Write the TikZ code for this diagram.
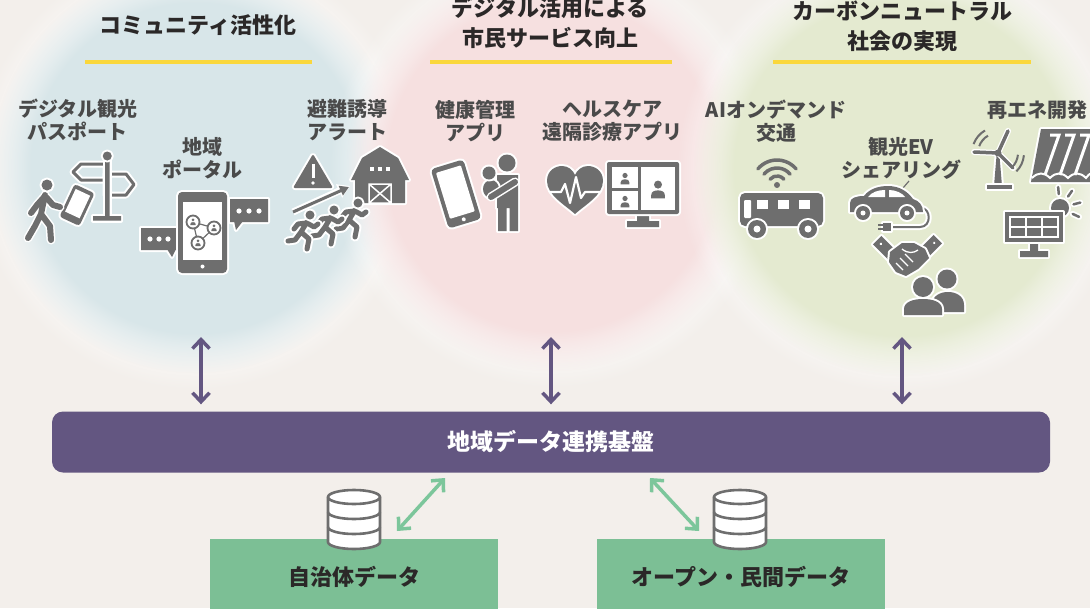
\documentclass[tikz,border=0pt]{standalone}
\usepackage{fontspec}
\setmainfont{Noto Sans CJK JP}
\usetikzlibrary{arrows.meta,positioning,calc,fadings}

\definecolor{paper}{HTML}{F3EFEB}
\definecolor{circblue}{HTML}{D8E6E9}
\definecolor{circpink}{HTML}{F6E0E0}
\definecolor{circgreen}{HTML}{E4EAD0}
\definecolor{bandyellow}{HTML}{FAD73C}
\definecolor{basepurple}{HTML}{635681}
\definecolor{datagreen}{HTML}{7CBF95}
\definecolor{linkgreen}{HTML}{7CC69B}
\definecolor{icongray}{HTML}{6E6E6E}
\definecolor{titleink}{HTML}{2B2828}
\definecolor{labelink}{HTML}{4A4A4A}

% soft edged disc for the three themes
\pgfdeclareradialshading{discmask}{\pgfpointorigin}{%
  color(0bp)=(white); color(20bp)=(white); color(25bp)=(black); color(50bp)=(black)}
\pgfdeclarefading{softdisc}{\pgfuseshading{discmask}}

\tikzset{
  ttl/.style={font=\fontsize{22}{30}\selectfont\bfseries,text=titleink,align=center},
  lbl/.style={font=\fontsize{20}{23}\selectfont\bfseries,text=labelink,align=center},
  rulebar/.style={draw=bandyellow,line width=4.5pt},
  ico/.style={fill=icongray,preaction={draw=white,line width=4pt,line join=round}},
  limb/.style={draw=icongray,line width=5pt,line cap=round,line join=round,
    preaction={draw=white,line width=9pt,line cap=round,line join=round}},
  thinlimb/.style={draw=icongray,line width=2.5pt,line cap=round,line join=round,
    preaction={draw=white,line width=6pt,line cap=round,line join=round}},
  outline/.style={draw=icongray,line width=3pt,line join=round,
    preaction={draw=white,line width=7pt,line join=round}},
  vlink/.style={draw=basepurple,line width=3.5pt,
    {Straight Barb[length=9pt,width=17pt]}-{Straight Barb[length=9pt,width=17pt]}},
  dlink/.style={draw=linkgreen,line width=3.5pt,
    {Straight Barb[length=9pt,width=17pt]}-{Straight Barb[length=9pt,width=17pt]}},
  basebar/.style={fill=basepurple,rounded corners=11pt,minimum width=998pt,minimum height=61pt,
    text=white,font=\fontsize{23}{26}\selectfont\bfseries},
  datbox/.style={fill=datagreen,minimum width=288pt,minimum height=76pt,
    text=titleink,font=\fontsize{22}{25}\selectfont\bfseries},
  bust/.pic={
    \fill[icongray] (0,-1.35) circle (1);
    \fill[icongray] (-1.7,2.1) -- (-1.7,1.3) .. controls (-1.7,0.4) and (-0.9,0.1) .. (0,0.1)
      .. controls (0.9,0.1) and (1.7,0.4) .. (1.7,1.3) -- (1.7,2.1) -- cycle;
  },
  runner/.pic={
    \draw[limb] (-3,7) -- (-9,17)
      (-3,8) -- (4,12) -- (8,9)
      (-4,8) -- (-12,9) -- (-16,14)
      (-9,17) -- (-1,24) -- (-3,34)
      (-9,17) -- (-15,25) -- (-22,26);
    \fill[ico] (0,0) circle (4.5);
  },
  dbstack/.pic={
    \filldraw[fill=white,draw=icongray,line width=2.6pt]
      (-26,7) -- (-26,52) arc[start angle=180,end angle=0,x radius=26,y radius=7]
      -- (26,7) arc[start angle=0,end angle=-180,x radius=26,y radius=7] -- cycle;
    \foreach \yy in {7,22,37}
      \draw[icongray,line width=2.6pt] (-26,\yy) arc[start angle=180,end angle=0,x radius=26,y radius=7];
  }
}

\begin{document}
\begin{tikzpicture}[x=1pt,y=-1pt]
\useasboundingbox (0,0) rectangle (1090,608);
\clip (0,0) rectangle (1090,608);
\fill[paper] (0,0) rectangle (1090,608);

% theme discs
\fill[white,opacity=0.7,path fading=softdisc] (196,168) circle (222pt);
\fill[circblue,path fading=softdisc] (196,168) circle (205pt);
\fill[white,opacity=0.7,path fading=softdisc] (552,166) circle (222pt);
\fill[circpink,path fading=softdisc] (552,166) circle (205pt);
\fill[white,opacity=0.7,path fading=softdisc] (902,168) circle (225pt);
\fill[circgreen,path fading=softdisc] (902,168) circle (208pt);

% headings
\node[ttl] (commTitle) at (198,25) {コミュニティ活性化};
\node[ttl] (civicTitle) at (550,23) {デジタル活用による\\市民サービス向上};
\node[ttl] (carbonTitle) at (902,26) {カーボンニュートラル\\社会の実現};
\draw[rulebar] (85,62) -- (312,62);
\draw[rulebar] (430,62) -- (672,62);
\draw[rulebar] (773,62) -- (1031,62);

% service labels
\node[lbl] (passLbl) at (78,120) {デジタル観光\\パスポート};
\node[lbl] (portalLbl) at (202,158) {地域\\ポータル};
\node[lbl] (alertLbl) at (347,120) {避難誘導\\アラート};
\node[lbl] (healthLbl) at (475,121) {健康管理\\アプリ};
\node[lbl] (teleLbl) at (612,121) {ヘルスケア\\遠隔診療アプリ};
\node[lbl] (busLbl) at (776,121) {AIオンデマンド\\交通};
\node[lbl] (evLbl) at (901,158) {観光EV\\シェアリング};
\node[lbl] (reLbl) at (1037,110) {再エネ開発};

% --- tourism passport: signpost, phone, walker
\draw[outline] (73,172) -- (81,164) -- (106,164) -- (106,180) -- (81,180) -- cycle;
\draw[outline] (106,174) -- (126,174) -- (134,184.5) -- (126,195) -- (106,195) -- cycle;
\fill[ico] (105,157) rectangle (109.5,218) (93,216) rectangle (121,220.5);
\fill[ico] (107.25,156) circle (4.5);
\begin{scope}[shift={(77,205)},rotate=-25]
  \fill[ico,rounded corners=3pt] (-11,-18) rectangle (11,18);
  \fill[white] (-8,-14) rectangle (8,11);
  \fill[icongray] (0,14.5) circle (1.5);
\end{scope}
\draw[limb,line width=6pt] (45,195) -- (41,214)
  (45,196) -- (37,205) -- (31,213)
  (46,197) -- (53,205) -- (60,207)
  (41,214) -- (35,226) -- (28,238)
  (41,214) -- (50,226) -- (51,240);
\fill[ico] (47,185) circle (5.5);

% --- local portal: bubbles and phone
\fill[ico] (141,228) rectangle (180,250) (167,249) -- (172,257) -- (176,249) -- cycle;
\foreach \xx in {150,159,168} \fill[white] (\xx,239) circle (2.6);
\fill[ico] (230,199) rectangle (268,222) (234,221) -- (236,230) -- (243,221) -- cycle;
\foreach \xx in {239,249,259} \fill[white] (\xx,211) circle (2.6);
\fill[ico,rounded corners=4pt] (178,192) rectangle (227,273);
\fill[white] (183,202) rectangle (222,260);
\fill[white] (202.5,266.5) circle (2);
\draw[icongray,line width=1.2pt] (193,222) -- (214,228) -- (198,243) -- cycle;
\foreach \p in {(193,222),(214,228),(198,243)} {
  \filldraw[fill=white,draw=icongray,line width=1.8pt] \p circle (6.5);
  \pic[scale=1.5] at \p {bust};
}

% --- evacuation alert: sign, shelter, arrow, runners
\fill[ico,rounded corners=2pt] (313,154) -- (333,188) -- (293,188) -- cycle;
\fill[white] (311.5,164) rectangle (314.5,178);
\fill[white] (313,183) circle (1.8);
\fill[ico] (355,203) -- (355,180) -- (351,180) -- (362,158) -- (380,147) -- (398,158)
  -- (409,180) -- (405,180) -- (405,203) -- cycle;
\foreach \xx in {372,380,388} \fill[white] (\xx-2,167) rectangle (\xx+2,171);
\draw[white,line width=1.5pt] (369,184) rectangle (391,203) (369,184) -- (391,203) (391,184) -- (369,203);
\draw[white,line width=7pt,-{Triangle[length=12pt,width=14pt]}] (293,212) -- (350,186);
\draw[icongray,line width=3pt,-{Triangle[length=9pt,width=10pt]}] (293,212) -- (349,187);
\pic at (358,203) {runner};
\pic at (334,210) {runner};
\pic at (310,215) {runner};

% --- health app: tablet, parent with child
\begin{scope}[shift={(456,194)},rotate=17]
  \fill[ico,rounded corners=4pt] (-17,-31) rectangle (17,31);
  \fill[white,rounded corners=1pt] (-13,-26) rectangle (13,22);
  \fill[white] (0,26.5) circle (2);
\end{scope}
\fill[ico] (497,175) rectangle (518,208) (498,205) rectangle (506.5,231) (509.5,205) rectangle (518,231);
\fill[ico] (507,163) circle (8.5);
\fill[ico] (491,189) ellipse [x radius=8,y radius=9];
\fill[ico] (489,173) circle (6.5);
\draw[icongray,line width=6pt,line cap=round,preaction={draw=white,line width=9pt,line cap=round}] (515,182) -- (491,197);

% --- telemedicine: heart and monitor
\fill[ico] (575,214) .. controls (565,205) and (547,195) .. (547,181)
  .. controls (547,170) and (556,166) .. (562,166) .. controls (568,166) and (573,170) .. (575,175)
  .. controls (577,170) and (582,166) .. (588,166) .. controls (594,166) and (603,170) .. (603,181)
  .. controls (603,195) and (585,205) .. (575,214) -- cycle;
\draw[white,line width=2.2pt,line join=round] (549,192) -- (561,192) -- (565,184) -- (570,203)
  -- (576,177) -- (581,198) -- (585,192) -- (601,192);
\fill[ico] (637,212) rectangle (649,222) (627,221) rectangle (659,227);
\fill[ico,rounded corners=2pt] (607,162) rectangle (679,214);
\fill[white] (612,167) rectangle (638,188);
\fill[white] (612,191) rectangle (638,210);
\fill[white] (641,167) rectangle (675,210);
\pic[scale=2.6] at (625,179) {bust};
\pic[scale=2.6] at (625,202) {bust};
\pic[scale=4] at (658,190) {bust};

% --- on-demand bus
\fill[icongray] (777,185) circle (3);
\foreach \r in {9,17,25}
  \draw[icongray,line width=3.5pt,line cap=round] (777,185) ++(-140:\r) arc[start angle=-140,end angle=-40,radius=\r];
\fill[ico,rounded corners=5pt] (740,193) rectangle (823,226);
\fill[white,rounded corners=1pt] (744,200) rectangle (751,218);
\foreach \xx in {757,778,799} \fill[white] (\xx,200) rectangle (\xx+11,209);
\foreach \xx in {757,808} {
  \fill[ico] (\xx,229) circle (9);
  \fill[white] (\xx,229) circle (3.5);
}

% --- EV sharing: car, cable, handshake, users
\draw[icongray,line width=1.2pt] (903,188) -- (909,181);
\draw[thinlimb,line width=2pt] (921,208) .. controls (931,208) and (932,227) .. (920,227) -- (890,227);
\fill[ico] (883,223) rectangle (891,231);
\draw[icongray,line width=1.5pt] (883,225) -- (878,225) (883,229) -- (878,229);
\fill[ico] (850,212) -- (850,203) .. controls (850,198) and (856,196) .. (864,196)
  .. controls (870,188) and (880,186) .. (888,186) .. controls (900,186) and (908,192) .. (913,199)
  .. controls (919,201) and (923,205) .. (923,212) -- cycle;
\fill[white] (868,197) .. controls (872,192) and (878,190) .. (885,190) -- (885,197) -- cycle;
\fill[white] (889,190) .. controls (896,190) and (902,193) .. (905,197) -- (889,197) -- cycle;
\foreach \xx in {863,907} {
  \fill[ico] (\xx,213) circle (7);
  \fill[white] (\xx,213) circle (2.5);
}
\begin{scope}[shift={(885,248)},rotate=45]
  \fill[ico] (-6,-11) rectangle (6,11);
  \fill[white] (0,-6) circle (1.4);
\end{scope}
\begin{scope}[shift={(930,247)},rotate=-45]
  \fill[ico] (-6,-11) rectangle (6,11);
  \fill[white] (0,-6) circle (1.4);
\end{scope}
\fill[ico] (890,252) -- (902,243) -- (914,243) -- (925,249) -- (929,258) -- (918,269)
  -- (906,276) -- (896,272) -- (889,262) -- cycle;
\draw[white,line width=1.3pt] (896,263) -- (903,270) (900,258) -- (908,266) (905,254) -- (913,262)
  (902,249) .. controls (908,254) and (914,253) .. (918,250);
\fill[ico] (932,312) -- (932,305) .. controls (932,296) and (940,292) .. (948,292)
  .. controls (956,292) and (964,296) .. (964,305) -- (964,312) -- cycle;
\fill[ico] (947,279) circle (9.5);
\fill[ico] (904,315) -- (904,309) .. controls (904,302) and (913,299) .. (923,299)
  .. controls (933,299) and (942,302) .. (942,309) -- (942,315) -- cycle;
\fill[ico] (923,287) circle (10);

% --- renewables: turbine, dam, solar
\fill[ico] (996.5,156) -- (999.5,156) -- (1002,186) -- (994,186) -- cycle;
\fill[ico] (987,185) rectangle (1012,189);
\draw[thinlimb,line width=3.5pt] (998,153) -- (1008,131) (998,153) -- (974,152) (998,153) -- (1013,168);
\fill[icongray] (998,153) circle (3.5);
\foreach \r in {20,26} {
  \draw[icongray,line width=2pt] (998,153) ++(-120:\r) arc[start angle=-120,end angle=-160,radius=\r];
  \draw[icongray,line width=2pt] (998,153) ++(5:\r) arc[start angle=5,end angle=45,radius=\r];
}
\fill[ico] (1041,129) -- (1094,129) -- (1094,182) -- (1031,182) -- cycle;
\foreach \xx in {1050,1065,1080}
  \draw[white,line width=3pt] (\xx,135) -- (\xx+9,135) -- (\xx-5,175);
\draw[white,line width=2pt] (1032,178) .. controls (1038,172) and (1044,172) .. (1050,178)
  .. controls (1056,172) and (1062,172) .. (1068,178) .. controls (1074,172) and (1080,172) .. (1086,178)
  .. controls (1090,173) .. (1094,175);
\fill[ico] (1060,208) circle (9);
\foreach \a in {-95,-55,-15,25} \draw[thinlimb] (1060,208) ++(\a:14) -- ++(\a:7);
\fill[ico] (1030,241) rectangle (1038,252) (1020,251) rectangle (1048,257);
\fill[ico] (1005,212) rectangle (1063,242);
\fill[white] (1009,216) rectangle (1059,238);
\foreach \cx in {1011,1027,1043} \foreach \cy in {218,228}
  \fill[icongray] (\cx,\cy) rectangle (\cx+14,\cy+8);

% --- data platform
\node[basebar] (hub) at (551,442) {地域データ連携基盤};
\coordinate (commFoot) at (201,337);
\coordinate (civicFoot) at (551,337);
\coordinate (carbonFoot) at (902,337);
\draw[vlink,shorten >=7pt] (commFoot) -- (commFoot |- hub.north);
\draw[vlink,shorten >=7pt] (civicFoot) -- (civicFoot |- hub.north);
\draw[vlink,shorten >=7pt] (carbonFoot) -- (carbonFoot |- hub.north);

\node[datbox] (muni) at (354,577) {自治体データ};
\node[datbox] (opendata) at (741,577) {オープン・民間データ};
\pic at (354,490) {dbstack};
\pic at (740,490) {dbstack};
\coordinate (hubLeft) at (445,478);
\coordinate (muniLink) at (397,531);
\coordinate (hubRight) at (650,478);
\coordinate (openLink) at (699,531);
\draw[dlink] (hubLeft) -- (muniLink);
\draw[dlink] (hubRight) -- (openLink);
\end{tikzpicture}
\end{document}
